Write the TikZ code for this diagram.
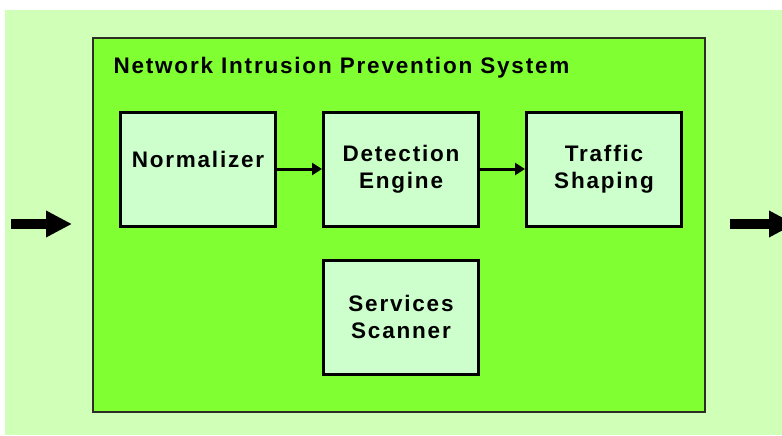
\documentclass[tikz,border=0pt]{standalone}
\usepackage{fontspec}
\setmainfont{Liberation Sans}[LetterSpace=8]
\usetikzlibrary{arrows.meta,positioning}
\definecolor{paleGreen}{RGB}{208,255,184}
\definecolor{limeGreen}{RGB}{128,255,51}
\definecolor{boxGreen}{RGB}{204,255,204}
\definecolor{frameGray}{RGB}{45,45,40}

\begin{document}
\begin{tikzpicture}[x=1pt,y=-1pt,>={Triangle[length=10pt,width=12pt]},
node distance=45pt,font=\fontsize{22.5}{27}\selectfont\bfseries,
main node/.style={rectangle,draw,line width=3pt,fill=boxGreen,
minimum width=155pt,minimum height=114pt,align=center,inner sep=0pt},
link/.style={->,line width=3pt},
flow/.style={-{Triangle[length=26pt,width=25pt]},line width=10pt}]

    \useasboundingbox (0,0) rectangle (782,436);
    \fill[paleGreen] (5,10) rectangle (782,435);

    \node[draw=frameGray,line width=2.5pt,fill=limeGreen,minimum
width=612pt,minimum height=374pt] (nips) at (399,225) {};
    \node[anchor=base west] (title) at (110,74) {Network Intrusion
Prevention System};

    \node[main node,text depth=20pt] (norm) at (198,169) {Normalizer};
\node[main node] (det) [right=of norm] {Detection\\Engine}; \node[main
node] (traf) [right=of det] {Traffic\\Shaping}; \node[main node] (scan)
[below=31pt of det] {Services\\Scanner};

    \path[link] (norm) edge (det) (det) edge (traf);

    \coordinate (inflow) at (11,224); \coordinate (intip) at (72,224);
    \coordinate (outflow) at (730,224); \coordinate (outtip) at (795,224);
    \draw[flow] (inflow) -- (intip);
    \draw[flow] (outflow) -- (outtip);
  \end{tikzpicture}
\end{document}
